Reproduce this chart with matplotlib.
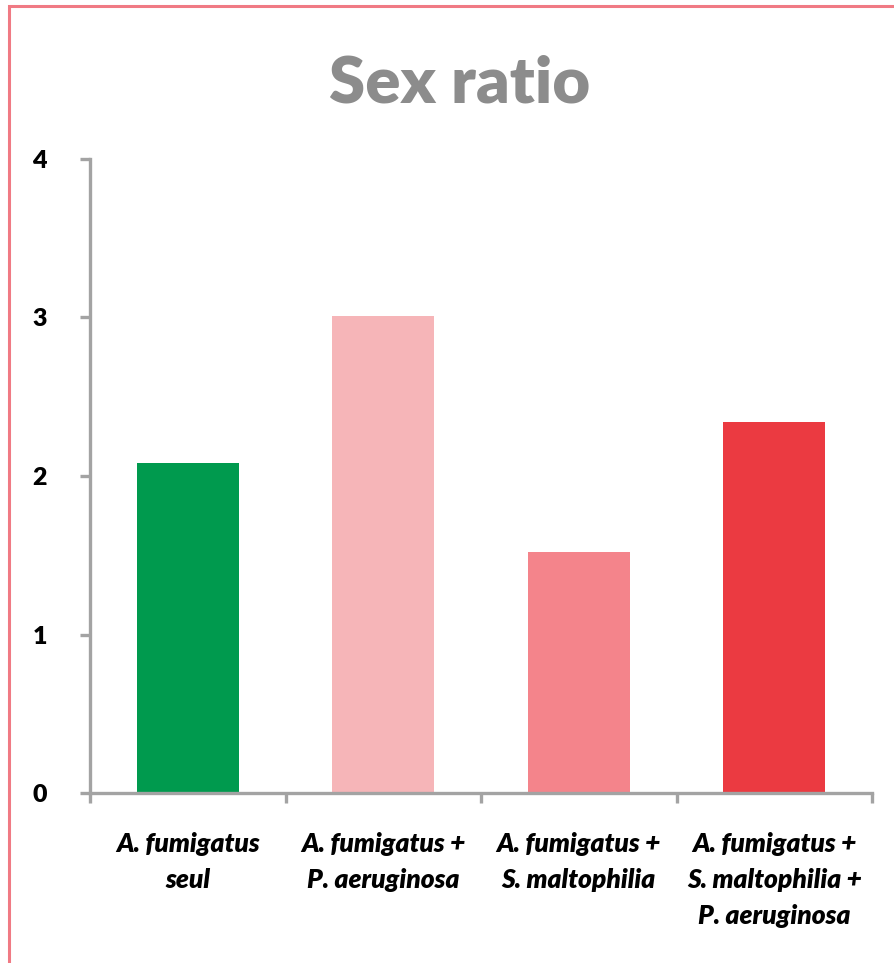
import numpy as np
import matplotlib.pyplot as plt
from matplotlib.patches import Rectangle

categories = [
    "A. fumigatus\nseul",
    "A. fumigatus +\nP. aeruginosa",
    "A. fumigatus +\nS. maltophilia",
    "A. fumigatus +\nS. maltophilia +\nP. aeruginosa",
]
sex_ratio = [2.08, 3.01, 1.52, 2.34]
bar_colors = ["#009A4E", "#F6B5B8", "#F4848B", "#EB3A41"]
y_ticks = [0, 1, 2, 3, 4]

plt.rcParams['font.family'] = ['Lato', 'DejaVu Sans']

fig = plt.figure(figsize=(8.95, 9.63), dpi=100)
W, H = 895, 963

# pink frame around the chart area
fig.patches.append(Rectangle((9.5 / W, -0.1), 1.2, 1 - 6.5 / H + 0.1,
                             transform=fig.transFigure, fill=False,
                             edgecolor="#F07A84", linewidth=2.2))

ax = fig.add_axes([90 / W, 1 - 793 / H, (872 - 90) / W, (793 - 159) / H])

x = np.arange(len(categories))
ax.bar(x, sex_ratio, width=0.52, color=bar_colors, zorder=2)

ax.set_xlim(-0.5, len(categories) - 0.5)
ax.set_ylim(0, 4)

axis_grey = "#A3A3A3"
for side in ["top", "right"]:
    ax.spines[side].set_visible(False)
for side in ["left", "bottom"]:
    ax.spines[side].set_color(axis_grey)
    ax.spines[side].set_linewidth(2.4)

ax.set_yticks(y_ticks)
ax.set_yticklabels([str(v) for v in y_ticks], fontsize=18, fontweight="heavy")
ax.tick_params(axis="y", direction="out", length=7, width=2.4,
               color=axis_grey, pad=24)

# category labels centred, tick marks on category boundaries
ax.set_xticks(x)
ax.set_xticklabels(categories, fontsize=19, fontweight="heavy",
                   fontstyle="italic", linespacing=1.6)
ax.tick_params(axis="x", which="major", length=0, pad=28)
ax.set_xticks(np.arange(-0.5, len(categories)), minor=True)
ax.tick_params(axis="x", which="minor", direction="out", length=7,
               width=2.4, color=axis_grey)

fig.text(460 / W, 1 - 84 / H, "Sex ratio", ha="center", va="center",
         fontsize=47, fontweight="heavy", color="#8C8C8C")

fig.savefig("out.png", dpi=100, facecolor="white")
